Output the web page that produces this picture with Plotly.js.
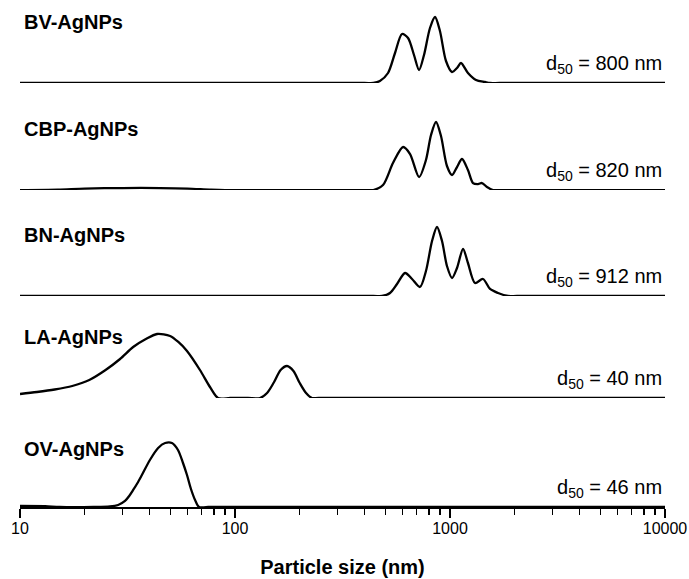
<!DOCTYPE html>
<html>
<head>
<meta charset="utf-8">
<script src="https://cdn.plot.ly/plotly-3.0.1.min.js"></script>
<style>html,body{margin:0;padding:0;background:#fff;}#chart{width:689px;height:579px;}</style>
</head>
<body>
<div id="chart"></div>
<script>
// Sample names and d50 labels (top to bottom)
const sampleNames = ["BV-AgNPs", "CBP-AgNPs", "BN-AgNPs", "LA-AgNPs", "OV-AgNPs"];
const d50Values = ["800", "820", "912", "40", "46"];

// Particle size (nm) and relative intensity for each sample
const bvSize = [10, 400, 440, 472, 515, 555, 598, 638, 680, 718, 757, 807, 852, 898, 958, 1022, 1078, 1125, 1212, 1321, 1455, 1535, 1700, 10000];
const bvInt  = [0, 0, 0, 2, 10, 30, 49, 45, 28, 13, 28, 55, 66, 52, 22, 11, 15, 20, 10, 3, 1, 0, 0, 0];

const cbpSize = [10, 15, 20, 30, 45, 60, 76, 90, 400, 440, 488, 543, 605, 652, 718, 773, 816, 861, 908, 968, 1022, 1078, 1137, 1212, 1279, 1350, 1409, 1486, 1585, 1750, 10000];
const cbpInt  = [0, 0.5, 1.5, 2, 2, 1.5, 0.5, 0, 0, 0, 5, 27, 43, 36, 13, 30, 55, 68, 54, 24, 15, 23, 31, 20, 7, 6, 7, 3, 0, 0, 0];

const bnSize = [10, 440, 483, 526, 567, 618, 666, 725, 773, 825, 870, 918, 968, 1022, 1078, 1150, 1212, 1307, 1424, 1535, 1672, 1862, 2050, 10000];
const bnInt  = [0, 0, 0, 3, 12, 23, 17, 9, 25, 55, 69, 55, 30, 18, 28, 47, 33, 13, 17, 7, 3, 0, 0, 0];

const laSize = [10, 12, 14.5, 17.5, 21, 25, 29.2, 33.6, 38.5, 43.4, 49.9, 54.5, 59.8, 68.7, 76.5, 83.4, 95, 115, 130.7, 141, 152, 163, 174.6, 187, 200, 214, 228, 245, 10000];
const laInt  = [4, 6, 8.5, 12, 18, 28, 39, 51, 59, 64, 62, 56, 47, 28, 11, 0, 0, 0, 0, 5, 16, 28, 32, 27, 15, 5, 0, 0, 0];

const ovSize = [10, 13.1, 15.3, 22, 26.2, 28.6, 30.8, 32.2, 33.6, 35.2, 36.9, 40.2, 43.9, 47.3, 50.9, 54.3, 57.3, 59.8, 62.4, 65.2, 68.0, 75, 10000];
const ovInt  = [1, 0.8, 0, 0, 0.5, 2, 6, 11, 17, 24, 32, 47, 59, 64, 64, 57, 44, 32, 18, 7, 0, 0, 0];

// Axis ticks
const majorTicks = [10, 100, 1000, 10000];
const majorTickText = ["10", "100", "1000", "10000"];
const minorDigits = [2, 3, 4, 5, 6, 7, 8, 9];
const decades = [10, 100, 1000];

const minorTicks = [];
decades.forEach(d => minorDigits.forEach(m => minorTicks.push(d * m)));

const seriesX = [bvSize, cbpSize, bnSize, laSize, ovSize];
const seriesY = [bvInt, cbpInt, bnInt, laInt, ovInt];
const axisIds = ["y5", "y4", "y3", "y2", "y"];

const traces = seriesX.map((xs, i) => ({
  x: xs, y: seriesY[i], type: "scatter", mode: "lines",
  line: {color: "#000", width: 2.3, shape: "spline", smoothing: 0.8},
  yaxis: axisIds[i], xaxis: "x", hoverinfo: "skip", cliponaxis: false
}));

const font = "Liberation Sans, Arial, sans-serif";
const annotations = [];
sampleNames.forEach((name, i) => {
  annotations.push({
    text: "<b>" + name + "</b>", xref: "paper", yref: axisIds[i], x: 0.003, y: i === 4 ? 58 : 61,
    xanchor: "left", yanchor: "middle", showarrow: false,
    font: {family: font, size: 20, color: "#000"}
  });
  annotations.push({
    text: "d<sub>50</sub> = " + d50Values[i] + " nm", xref: "paper", yref: axisIds[i], x: 0.998, y: 4,
    xanchor: "right", yanchor: "bottom", showarrow: false,
    font: {family: font, size: 20, color: "#000"}
  });
});

const yBase = {visible: false, fixedrange: true, anchor: "x"};
const layout = {
  width: 689, height: 579,
  margin: {l: 20, r: 24, t: 0, b: 72},
  paper_bgcolor: "#fff", plot_bgcolor: "#fff",
  showlegend: false,
  xaxis: {
    type: "log", range: [1, 4], anchor: "y",
    tickmode: "array", tickvals: majorTicks, ticktext: majorTickText,
    ticks: "outside", ticklen: 9, tickwidth: 1.5, tickcolor: "#000",
    ticklabelstandoff: -3,
    showline: true, linewidth: 2, linecolor: "#000",
    showgrid: false, zeroline: false,
    tickfont: {family: font, size: 16, color: "#000"},
    minor: {tickmode: "array", tickvals: minorTicks, ticks: "outside", ticklen: 6, tickwidth: 1.5, tickcolor: "#000", showgrid: false},
    title: {text: "<b>Particle size (nm)</b>", font: {family: font, size: 20, color: "#000"}, standoff: 24}
  },
  yaxis:  Object.assign({}, yBase, {domain: [0, 0.215], range: [0, 109]}),
  yaxis2: Object.assign({}, yBase, {domain: [0.215, 0.4162], range: [0, 102]}),
  yaxis3: Object.assign({}, yBase, {domain: [0.4162, 0.6252], range: [0, 106]}),
  yaxis4: Object.assign({}, yBase, {domain: [0.6252, 0.8363], range: [0, 107]}),
  yaxis5: Object.assign({}, yBase, {domain: [0.8363, 1], range: [0, 83]}),
  annotations: annotations
};

Plotly.newPlot("chart", traces, layout, {displayModeBar: false, staticPlot: true});
</script>
</body>
</html>
